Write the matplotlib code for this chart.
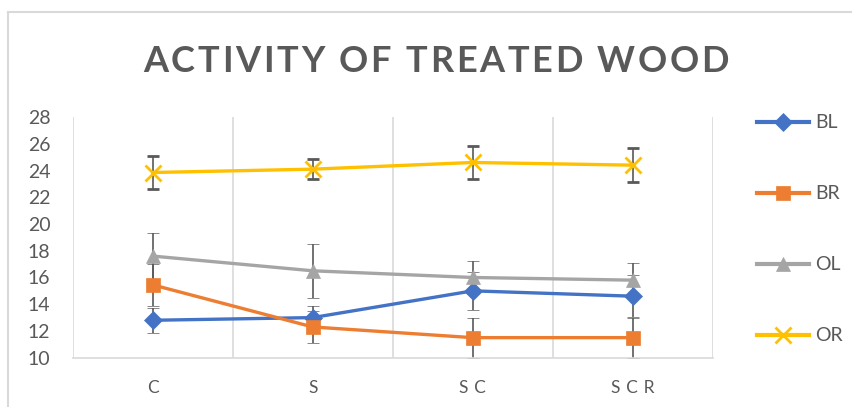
import matplotlib.pyplot as plt
from matplotlib.font_manager import FontProperties
from matplotlib.lines import Line2D

plt.rcParams["font.family"] = ["Lato", "DejaVu Sans"]

# Treatments and measured activity (mean +/- error)
treatments = ["C", "S", "S\u2004C", "S\u2004C\u2004R"]

bl_mean = [12.8, 13.0, 15.0, 14.6]
bl_err = [0.95, 0.9, 1.4, 1.55]

br_mean = [15.45, 12.3, 11.5, 11.5]
br_err = [1.55, 1.2, 1.5, 1.5]

ol_mean = [17.6, 16.5, 16.0, 15.8]
ol_err = [1.7, 2.0, 1.25, 1.3]

or_mean = [23.85, 24.1, 24.6, 24.4]
or_err = [1.2, 0.75, 1.2, 1.25]

series = [
    ("BL", bl_mean, bl_err, "#4472C4", "D", 9),
    ("BR", br_mean, br_err, "#ED7D31", "s", 10),
    ("OL", ol_mean, ol_err, "#A5A5A5", "^", 10),
    ("OR", or_mean, or_err, "#FFC000", "x", 11),
]

title = "ACTIVITY OF TREATED WOOD"

text_color = "#595959"
grid_color = "#D9D9D9"

fig = plt.figure(figsize=(8.53, 4.07), dpi=100)
ax = fig.add_axes([0.0852, 0.1211, 0.7503, 0.5914])

x = list(range(len(treatments)))

for name, mean, err, color, marker, msize in series:
    ax.errorbar(
        x,
        mean,
        yerr=err,
        color=color,
        ecolor=text_color,
        elinewidth=1.2,
        capsize=4.5,
        capthick=1.2,
        lw=2.4,
        marker=marker,
        markersize=msize,
        markeredgewidth=2 if marker == "x" else 0.5,
        markeredgecolor=color,
        label=name,
    )

# Axes styling
ax.set_xlim(-0.5, 3.5)
ax.set_ylim(10, 28)
ax.set_yticks(range(10, 29, 2))
ax.set_xticks(x)
ax.set_xticklabels(treatments)

# Vertical gridlines between categories
for gx in [-0.5, 0.5, 1.5, 2.5, 3.5]:
    ax.axvline(gx, color=grid_color, lw=1.2, zorder=0)

for side in ["top", "right", "left"]:
    ax.spines[side].set_visible(False)
ax.spines["bottom"].set_color(grid_color)
ax.spines["bottom"].set_linewidth(1.2)

ax.tick_params(axis="y", length=0, pad=16, labelsize=14, labelcolor=text_color)
ax.tick_params(axis="x", length=0, pad=16, labelsize=12.5, labelcolor=text_color)

# Title with wide letter spacing, laid out one character at a time
title_prop = FontProperties(family=["Lato", "DejaVu Sans"], weight="bold", size=26)
renderer = fig.canvas.get_renderer()
char_w = [
    renderer.get_text_width_height_descent(ch, title_prop, ismath=False)[0]
    for ch in title
]
x_left, x_right = 143, 729
spacing = (x_right - x_left - sum(char_w)) / (len(title) - 1)
cx = x_left
for ch, w in zip(title, char_w):
    fig.text(
        cx / 853,
        1 - 61 / 407,
        ch,
        ha="left",
        va="center",
        fontproperties=title_prop,
        color=text_color,
    )
    cx += w + spacing

# Legend
handles = [
    Line2D(
        [0], [0],
        color=color,
        lw=3,
        marker=marker,
        markersize=msize,
        markeredgewidth=2 if marker == "x" else 0.5,
        markeredgecolor=color,
    )
    for name, mean, err, color, marker, msize in series
]
fig.legend(
    handles,
    [s[0] for s in series],
    loc="upper left",
    bbox_to_anchor=(0.876, 0.743),
    frameon=False,
    fontsize=14,
    labelcolor=text_color,
    handlelength=2.7,
    handletextpad=0.3,
    labelspacing=2.78,
    borderpad=0,
)

# Chart area border
fig.add_artist(Line2D([8 / 853, 8 / 853], [0, 395 / 407], transform=fig.transFigure,
                      color=grid_color, lw=1.5))
fig.add_artist(Line2D([8 / 853, 1], [395 / 407, 395 / 407], transform=fig.transFigure,
                      color=grid_color, lw=1.5))

fig.savefig("out.png", dpi=100)
